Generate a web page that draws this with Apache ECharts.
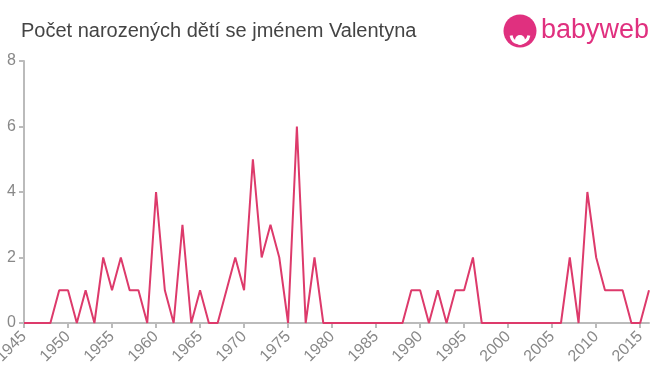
<!DOCTYPE html>
<html>
<head>
<meta charset="utf-8">
<script src="https://cdn.jsdelivr.net/npm/echarts@6/dist/echarts.min.js"></script>
<style>
  html, body { margin: 0; padding: 0; background: #fff; }
  #chart { width: 660px; height: 375px; }
</style>
</head>
<body>
<div id="chart"></div>
<script>
// roky 1945 - 2016
const years = [];
for (let y = 1945; y <= 2016; y++) years.push(String(y));

const births = [
  0, 0, 0, 0, 1, 1, 0, 1, 0, 2,   // 1945-1954
  1, 2, 1, 1, 0, 4, 1, 0, 3, 0,   // 1955-1964
  1, 0, 0, 1, 2, 1, 5, 2, 3, 2,   // 1965-1974
  0, 6, 0, 2, 0, 0, 0, 0, 0, 0,   // 1975-1984
  0, 0, 0, 0, 1, 1, 0, 1, 0, 1,   // 1985-1994
  1, 2, 0, 0, 0, 0, 0, 0, 0, 0,   // 1995-2004
  0, 0, 2, 0, 4, 2, 1, 1, 1, 0,   // 2005-2014
  0, 1                            // 2015-2016
];

const yTicks = [0, 2, 4, 6, 8];

const chart = echarts.init(document.getElementById('chart'));

const font = 'Liberation Sans, Arial, sans-serif';

const option = {
  animation: false,
  title: {
    text: 'Počet narozených dětí se jménem Valentyna',
    left: 16,
    top: 16,
    textStyle: { color: '#444', fontSize: 20, fontWeight: 'normal', fontFamily: font }
  },
  graphic: [
    { type: 'circle', shape: { cx: 520, cy: 31, r: 16.5 }, style: { fill: '#e0307f' } },
    { type: 'circle', shape: { cx: 520, cy: 40, r: 5 }, style: { fill: '#fff' } },
    { type: 'arc', shape: { cx: 520, cy: 34, r: 9, startAngle: Math.PI * 0.05, endAngle: Math.PI * 0.95 },
      style: { stroke: '#fff', lineWidth: 3, fill: null } },
    {
      type: 'text', left: 541, top: 17,
      style: { text: 'babyweb', fill: '#e0307f', fontSize: 27, fontFamily: font }
    }
  ],
  grid: { left: 24, right: 11, top: 61, bottom: 52, outerBoundsMode: 'none', containLabel: false },
  xAxis: {
    type: 'category',
    data: years,
    boundaryGap: false,
    axisLine: { lineStyle: { color: '#bbb', width: 2 } },
    axisTick: { alignWithLabel: true, interval: 4, length: 5, lineStyle: { color: '#bbb', width: 2 } },
    axisLabel: { interval: 4, rotate: 45, color: '#888', fontSize: 16, margin: 11, fontFamily: font },
    splitLine: { show: false }
  },
  yAxis: {
    type: 'value',
    min: yTicks[0],
    max: yTicks[yTicks.length - 1],
    interval: 2,
    axisLine: { show: true, lineStyle: { color: '#bbb', width: 2 } },
    axisTick: { show: true, length: 5, lineStyle: { color: '#bbb', width: 2 } },
    axisLabel: { color: '#888', fontSize: 16, margin: 8, fontFamily: font },
    splitLine: { show: false }
  },
  series: [
    {
      type: 'line',
      data: births,
      showSymbol: false,
      lineStyle: { color: '#dd3a6b', width: 2 }
    }
  ]
};

chart.setOption(option);
</script>
</body>
</html>
